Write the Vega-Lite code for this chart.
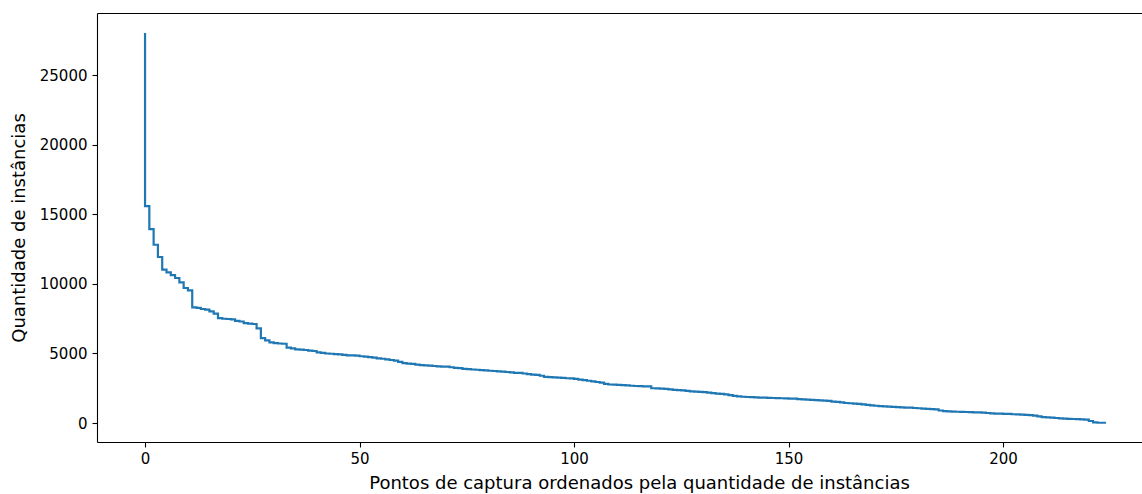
{
  "$schema": "https://vega.github.io/schema/vega-lite/v6.json",
  "width": 1045,
  "height": 429,
  "autosize": "none",
  "padding": {"left": 97, "top": 13, "right": 0, "bottom": 52},
  "background": "white",
  "config": {
    "view": {"stroke": null},
    "font": "DejaVu Sans",
    "axis": {"grid": false, "domainColor": "#000", "tickColor": "#000", "labelColor": "#000", "titleColor": "#000", "labelFont": "DejaVu Sans", "titleFont": "DejaVu Sans", "labelFontSize": 15, "titleFontSize": 18, "titleFontWeight": "normal", "tickSize": 5, "domainWidth": 1.1, "tickWidth": 1.1}
  },
  "data": {"values": [
    {"x":0,"y":28050},{"x":1,"y":15600},{"x":2,"y":13950},{"x":3,"y":12820},{"x":4,"y":11940},{"x":5,"y":11030},{"x":6,"y":10830},{"x":7,"y":10640},{"x":8,"y":10430},{"x":9,"y":10110},
    {"x":10,"y":9710},{"x":11,"y":9540},{"x":12,"y":8310},{"x":13,"y":8280},{"x":14,"y":8200},{"x":15,"y":8150},{"x":16,"y":8030},{"x":17,"y":7860},{"x":18,"y":7550},{"x":19,"y":7500},
    {"x":20,"y":7480},{"x":21,"y":7450},{"x":22,"y":7350},{"x":23,"y":7300},{"x":24,"y":7190},{"x":25,"y":7150},{"x":26,"y":7120},{"x":27,"y":6800},{"x":28,"y":6110},{"x":29,"y":5940},
    {"x":30,"y":5800},{"x":31,"y":5750},{"x":32,"y":5720},{"x":33,"y":5700},{"x":34,"y":5420},{"x":35,"y":5370},{"x":36,"y":5300},{"x":37,"y":5280},{"x":38,"y":5250},{"x":39,"y":5200},
    {"x":40,"y":5180},{"x":41,"y":5080},{"x":42,"y":5050},{"x":43,"y":5000},{"x":44,"y":4980},{"x":45,"y":4960},{"x":46,"y":4930},{"x":47,"y":4900},{"x":48,"y":4870},{"x":49,"y":4860},
    {"x":50,"y":4850},{"x":51,"y":4800},{"x":52,"y":4770},{"x":53,"y":4740},{"x":54,"y":4700},{"x":55,"y":4650},{"x":56,"y":4620},{"x":57,"y":4580},{"x":58,"y":4530},{"x":59,"y":4480},
    {"x":60,"y":4400},{"x":61,"y":4300},{"x":62,"y":4270},{"x":63,"y":4260},{"x":64,"y":4200},{"x":65,"y":4160},{"x":66,"y":4140},{"x":67,"y":4120},{"x":68,"y":4100},{"x":69,"y":4080},
    {"x":70,"y":4060},{"x":71,"y":4050},{"x":72,"y":4010},{"x":73,"y":3960},{"x":74,"y":3940},{"x":75,"y":3900},{"x":76,"y":3870},{"x":77,"y":3850},{"x":78,"y":3830},{"x":79,"y":3810},
    {"x":80,"y":3790},{"x":81,"y":3760},{"x":82,"y":3740},{"x":83,"y":3710},{"x":84,"y":3690},{"x":85,"y":3670},{"x":86,"y":3640},{"x":87,"y":3610},{"x":88,"y":3600},{"x":89,"y":3560},
    {"x":90,"y":3510},{"x":91,"y":3480},{"x":92,"y":3460},{"x":93,"y":3400},{"x":94,"y":3320},{"x":95,"y":3300},{"x":96,"y":3280},{"x":97,"y":3260},{"x":98,"y":3240},{"x":99,"y":3220},
    {"x":100,"y":3210},{"x":101,"y":3170},{"x":102,"y":3120},{"x":103,"y":3080},{"x":104,"y":3040},{"x":105,"y":3000},{"x":106,"y":2950},{"x":107,"y":2900},{"x":108,"y":2820},{"x":109,"y":2770},
    {"x":110,"y":2755},{"x":111,"y":2740},{"x":112,"y":2720},{"x":113,"y":2700},{"x":114,"y":2680},{"x":115,"y":2660},{"x":116,"y":2650},{"x":117,"y":2640},{"x":118,"y":2630},{"x":119,"y":2500},
    {"x":120,"y":2490},{"x":121,"y":2470},{"x":122,"y":2450},{"x":123,"y":2420},{"x":124,"y":2390},{"x":125,"y":2370},{"x":126,"y":2340},{"x":127,"y":2310},{"x":128,"y":2280},{"x":129,"y":2260},
    {"x":130,"y":2240},{"x":131,"y":2220},{"x":132,"y":2180},{"x":133,"y":2150},{"x":134,"y":2120},{"x":135,"y":2090},{"x":136,"y":2060},{"x":137,"y":2010},{"x":138,"y":1950},{"x":139,"y":1920},
    {"x":140,"y":1890},{"x":141,"y":1870},{"x":142,"y":1860},{"x":143,"y":1850},{"x":144,"y":1830},{"x":145,"y":1820},{"x":146,"y":1810},{"x":147,"y":1800},{"x":148,"y":1790},{"x":149,"y":1780},
    {"x":150,"y":1770},{"x":151,"y":1760},{"x":152,"y":1750},{"x":153,"y":1720},{"x":154,"y":1700},{"x":155,"y":1680},{"x":156,"y":1660},{"x":157,"y":1640},{"x":158,"y":1630},{"x":159,"y":1610},
    {"x":160,"y":1590},{"x":161,"y":1540},{"x":162,"y":1520},{"x":163,"y":1480},{"x":164,"y":1440},{"x":165,"y":1420},{"x":166,"y":1390},{"x":167,"y":1370},{"x":168,"y":1340},{"x":169,"y":1300},
    {"x":170,"y":1270},{"x":171,"y":1240},{"x":172,"y":1220},{"x":173,"y":1200},{"x":174,"y":1180},{"x":175,"y":1160},{"x":176,"y":1140},{"x":177,"y":1120},{"x":178,"y":1110},{"x":179,"y":1100},
    {"x":180,"y":1080},{"x":181,"y":1060},{"x":182,"y":1040},{"x":183,"y":1020},{"x":184,"y":1000},{"x":185,"y":980},{"x":186,"y":900},{"x":187,"y":860},{"x":188,"y":835},{"x":189,"y":820},
    {"x":190,"y":810},{"x":191,"y":800},{"x":192,"y":790},{"x":193,"y":780},{"x":194,"y":770},{"x":195,"y":760},{"x":196,"y":740},{"x":197,"y":720},{"x":198,"y":690},{"x":199,"y":680},
    {"x":200,"y":670},{"x":201,"y":660},{"x":202,"y":650},{"x":203,"y":630},{"x":204,"y":615},{"x":205,"y":600},{"x":206,"y":580},{"x":207,"y":560},{"x":208,"y":525},{"x":209,"y":480},
    {"x":210,"y":430},{"x":211,"y":400},{"x":212,"y":380},{"x":213,"y":360},{"x":214,"y":340},{"x":215,"y":320},{"x":216,"y":300},{"x":217,"y":290},{"x":218,"y":280},{"x":219,"y":260},
    {"x":220,"y":240},{"x":221,"y":145},{"x":222,"y":40},{"x":223,"y":20},{"x":224,"y":20}
  ]},
  "resolve": {"axis": {"x": "independent"}},
  "layer": [
    {
      "mark": {"type": "line", "interpolate": "step-before", "color": "#1f77b4", "strokeWidth": 2.2, "clip": true},
      "encoding": {
        "x": {"field": "x", "type": "quantitative", "scale": {"domain": [-11.2, 232.4], "nice": false, "zero": false},
              "axis": {"orient": "bottom", "values": [0, 50, 100, 150, 200], "title": "Pontos de captura ordenados pela quantidade de instâncias", "labelPadding": 4, "titlePadding": 8, "titleX": 542, "titleAlign": "center"}},
        "y": {"field": "y", "type": "quantitative", "scale": {"domain": [-1366, 29488], "nice": false, "zero": false},
              "axis": {"values": [0, 5000, 10000, 15000, 20000, 25000], "format": "d", "title": "Quantidade de instâncias", "labelPadding": 5, "titlePadding": 11}}
      }
    },
    {
      "mark": {"type": "line", "opacity": 0},
      "encoding": {
        "x": {"field": "x", "type": "quantitative", "axis": {"orient": "top", "labels": false, "ticks": false, "title": null}},
        "y": {"field": "y", "type": "quantitative"}
      }
    }
  ]
}
